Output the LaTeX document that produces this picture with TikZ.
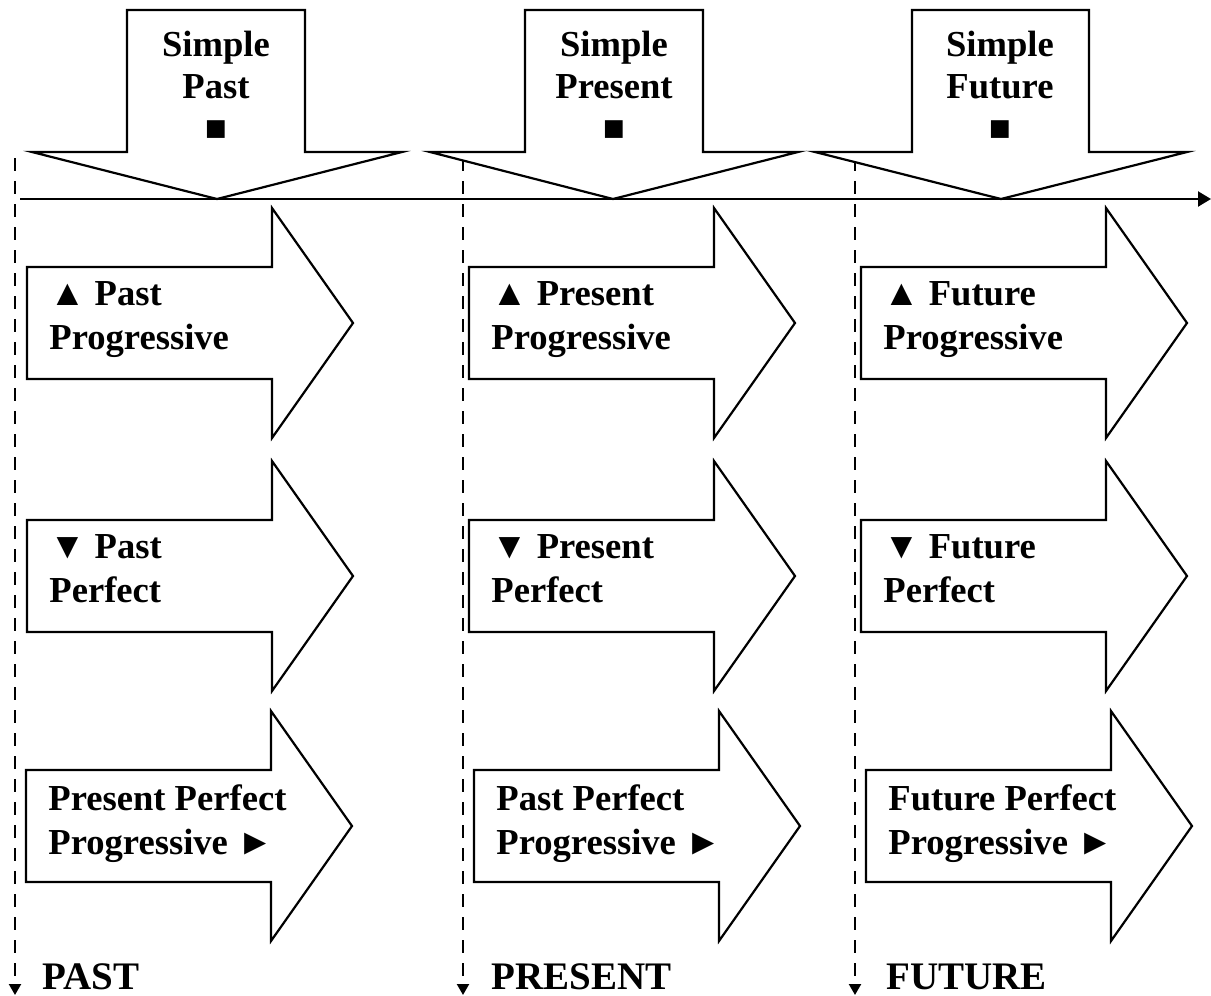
\documentclass[tikz,border=0pt]{standalone}
\usepackage{fontspec}
\setmainfont{Liberation Serif}
\usetikzlibrary{arrows.meta}
\newcommand\tenserarrow[2]{% #1 x of shaft left, #2 y of centre
  \draw[shapeline] (#1,#2) ++(0,-56) -- ++(245,0) -- ++(0,-59) -- ++(81,115)
    -- ++(-81,115) -- ++(0,-59) -- ++(-245,0) -- cycle;}
\newcommand\simplearrow[5]{% shaft L, shaft R, wing L, wing R, tip x
  \draw[shapeline] (#1,10) -- (#2,10) -- (#2,152) -- (#4,152) -- (#5,199)
    -- (#3,152) -- (#1,152) -- cycle;}
\begin{document}
\begin{tikzpicture}[x=0.5pt,y=-0.5pt,
  shapeline/.style={draw=black,line width=1.1pt,fill=white,line join=miter},
  dashline/.style={line width=1.1pt,dash pattern=on 6.5pt off 5pt,
    -{Triangle[width=6pt,length=5.5pt]}},
  axisline/.style={line width=1.1pt,-{Triangle[width=7.5pt,length=6.5pt]}},
  toplbl/.style={font=\bfseries\fontsize{18.3}{21}\selectfont,inner sep=0pt,
    align=center,anchor=base},
  lbl/.style={font=\bfseries\fontsize{18.3}{22}\selectfont,inner sep=0pt,
    align=left,anchor=base west},
  era/.style={font=\bfseries\fontsize{19.5}{23}\selectfont,inner sep=0pt,
    anchor=base west}]
\useasboundingbox (0,0) rectangle (1211,996);
% dashed time lines
\coordinate (d1s) at (15,158);  \coordinate (d1e) at (15,995);
\coordinate (d2s) at (463,158); \coordinate (d2e) at (463,995);
\coordinate (d3s) at (855,158); \coordinate (d3e) at (855,995);
\draw[dashline] (d1s) -- (d1e);
\draw[dashline] (d2s) -- (d2e);
\draw[dashline] (d3s) -- (d3e);
% simple tense arrows
\simplearrow{127}{305}{32}{402}{217}
\simplearrow{525}{703}{430}{798}{613}
\simplearrow{912}{1089}{815}{1187}{1001}
% axis
\coordinate (ax0) at (20,199); \coordinate (ax1) at (1211,199);
\draw[axisline] (ax0) -- (ax1);
% right arrows
\tenserarrow{27}{323}  \tenserarrow{469}{323}  \tenserarrow{861}{323}
\tenserarrow{27}{576}  \tenserarrow{469}{576}  \tenserarrow{861}{576}
\tenserarrow{26}{826}  \tenserarrow{474}{826}  \tenserarrow{866}{826}
% top labels (anchor = baseline of last line)
\node[toplbl] (spast) at (216,140) {Simple\\Past\\■};
\node[toplbl] (spres) at (614,140) {Simple\\Present\\■};
\node[toplbl] (sfut)  at (1000,140) {Simple\\Future\\■};
% arrow labels (anchor = baseline of last line)
\node[lbl] (pprog)  at (49,349)  {▲ Past\\Progressive};
\node[lbl] (prprog) at (491,349) {▲ Present\\Progressive};
\node[lbl] (fprog)  at (883,349) {▲ Future\\Progressive};
\node[lbl] (pperf)  at (49,602)  {▼ Past\\Perfect};
\node[lbl] (prperf) at (491,602) {▼ Present\\Perfect};
\node[lbl] (fperf)  at (883,602) {▼ Future\\Perfect};
\node[lbl] (prpp)   at (48,854)  {Present Perfect\\Progressive ►};
\node[lbl] (ppp)    at (496,854) {Past Perfect\\Progressive ►};
\node[lbl] (fpp)    at (888,854) {Future Perfect\\Progressive ►};
% era labels
\node[era] (past) at (42,989)  {PAST};
\node[era] (pres) at (491,989) {PRESENT};
\node[era] (fut)  at (886,989) {FUTURE};
\end{tikzpicture}
\end{document}
